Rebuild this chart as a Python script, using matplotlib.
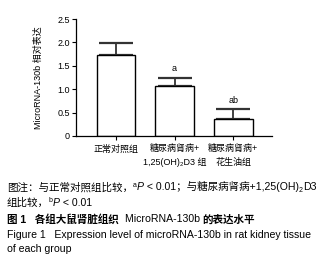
import matplotlib
matplotlib.use("Agg")
import matplotlib.pyplot as plt
from matplotlib.ticker import FuncFormatter

plt.rcParams['font.family'] = ['Liberation Sans', 'Noto Sans CJK SC', 'DejaVu Sans']

# data
groups = ['正常对照组', '糖尿病肾病+\n1,25(OH)₂D3 组', '糖尿病肾病+\n花生油组']
means = [1.72, 1.06, 0.36]
sds = [0.27, 0.18, 0.21]
marks = ['', 'a', 'ab']

fig = plt.figure(figsize=(3.34, 2.64), dpi=100)
ax = fig.add_axes([0.2275, 0.485, 0.587, 0.443])

x = range(len(groups))
ax.bar(x, means, width=0.66, color='white', edgecolor='black', linewidth=1.0, zorder=2)
ax.errorbar(x, means, yerr=[[0] * 3, sds], fmt='none', ecolor='#333333',
            elinewidth=1.3, capsize=12, capthick=1.6, zorder=1)
for xi, m, s, t in zip(x, means, sds, marks):
    ax.text(xi, m + s + 0.1, t, ha='center', va='bottom', fontsize=6.5)

ax.set_xlim(-0.68, 2.66)
ax.set_ylim(0, 2.5)
ax.set_yticks([0, 0.5, 1.0, 1.5, 2.0, 2.5])
ax.yaxis.set_major_formatter(FuncFormatter(lambda v, p: '0' if v == 0 else f'{v:.1f}'))
ax.set_xticks(list(x))
ax.set_xticklabels(groups, fontsize=6.5, linespacing=1.6)
ax.tick_params(axis='y', labelsize=6.5, length=3, width=0.8, pad=1.5)
ax.tick_params(axis='x', length=3, width=0.8, pad=3)
ax.spines['top'].set_visible(False)
ax.spines['right'].set_visible(False)
ax.spines['left'].set_linewidth(0.9)
ax.spines['bottom'].set_linewidth(0.9)
ax.set_ylabel('MicroRNA-130b 相对表达', fontsize=6.5, labelpad=10)

fs = 7.6
renderer = fig.canvas.get_renderer()


def line(x0, ypx, pieces):
    # place text pieces one after another on a common baseline
    xf = x0
    yf = 1 - ypx / 264
    for s, kw in pieces:
        kw = dict(kw)
        size = kw.pop('size', fs)
        dy = kw.pop('dy', 0) / 264
        t = fig.text(xf, yf + dy, s, fontsize=size, va='baseline', **kw)
        xf += t.get_window_extent(renderer=renderer).width / fig.bbox.width


sup = {'size': 5, 'dy': 3.5}
it = {'style': 'italic'}
line(0.021, 190.5, [('图注：与正常对照组比较，', {}), ('a', sup), ('P', it),
                    (' < 0.01；与糖尿病肾病+1,25(OH)', {}), ('2', {'size': 5, 'dy': -1.5}),
                    ('D3', {})])
line(0.021, 205.5, [('组比较，', {}), ('b', sup), ('P', it), (' < 0.01', {})])
line(0.021, 222.5, [('图 1   各组大鼠肾脏组织  ', {'fontweight': 'bold'}),
                    ('MicroRNA-130b ', {}), ('的表达水平', {'fontweight': 'bold'})])
line(0.021, 237.5, [('Figure 1   Expression level of microRNA-130b in rat kidney tissue', {})])
line(0.021, 252.5, [('of each group', {})])

fig.savefig('out.png', dpi=100)
